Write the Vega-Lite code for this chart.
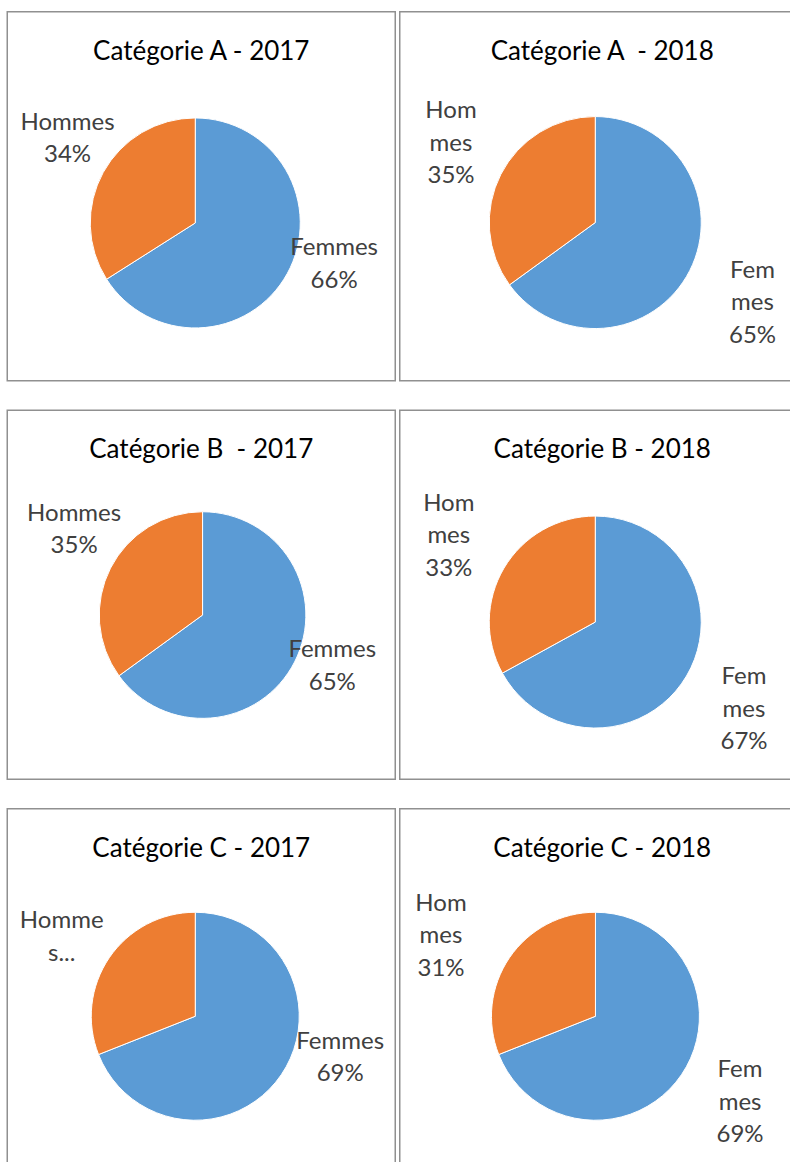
{
  "$schema": "https://vega.github.io/schema/vega-lite/v6.json",
  "padding": {"left": 6.25, "top": 10.75, "right": 0, "bottom": 0},
  "background": "#ffffff",
  "data": {
    "values": [
      {"panel": "A2017", "sexe": "Femmes", "pct": 66, "label": "Femmes\n66%"},
      {"panel": "A2017", "sexe": "Hommes", "pct": 34, "label": "Hommes\n34%"},
      {"panel": "A2018", "sexe": "Femmes", "pct": 65, "label": "Fem\nmes\n65%"},
      {"panel": "A2018", "sexe": "Hommes", "pct": 35, "label": "Hom\nmes\n35%"},
      {"panel": "B2017", "sexe": "Femmes", "pct": 65, "label": "Femmes\n65%"},
      {"panel": "B2017", "sexe": "Hommes", "pct": 35, "label": "Hommes\n35%"},
      {"panel": "B2018", "sexe": "Femmes", "pct": 67, "label": "Fem\nmes\n67%"},
      {"panel": "B2018", "sexe": "Hommes", "pct": 33, "label": "Hom\nmes\n33%"},
      {"panel": "C2017", "sexe": "Femmes", "pct": 69, "label": "Femmes\n69%"},
      {"panel": "C2017", "sexe": "Hommes", "pct": 31, "label": "Homme\ns..."},
      {"panel": "C2018", "sexe": "Femmes", "pct": 69, "label": "Fem\nmes\n69%"},
      {"panel": "C2018", "sexe": "Hommes", "pct": 31, "label": "Hom\nmes\n31%"}
    ]
  },
  "spacing": 27.5,
  "vconcat": [
    {
      "spacing": 2.5,
      "hconcat": [
        {
          "width": 388, "height": 369,
          "view": {"stroke": "#909090", "strokeWidth": 1.5},
          "title": {"text": "Catégorie A - 2017"},
          "transform": [
            {"filter": "datum.panel === 'A2017'"},
            {"stack": "pct", "groupby": ["panel"], "sort": [{"field": "sexe", "order": "ascending"}], "as": ["p0", "p1"]},
            {"calculate": "(datum.p0 + datum.p1) / 2", "as": "pmid"}
          ],
          "layer": [
            {"mark": {"type": "arc", "radius": 105, "xOffset": -6, "yOffset": 26.7, "stroke": "#ffffff", "strokeWidth": 1},
             "encoding": {"theta": {"field": "p0", "type": "quantitative", "stack": null, "scale": {"domain": [0, 100]}}, "theta2": {"field": "p1"},
                          "color": {"field": "sexe", "type": "nominal", "scale": {"domain": ["Femmes", "Hommes"], "range": ["#5B9BD5", "#ED7D31"]}, "legend": null}}},
            {"transform": [{"filter": "datum.sexe === 'Hommes'"}],
             "mark": {"type": "text", "radius": 151.5, "xOffset": -6, "yOffset": 26.7, "dx": 5, "dy": -27.3},
             "encoding": {"theta": {"field": "pmid", "type": "quantitative", "stack": null, "scale": {"domain": [0, 100]}}, "text": {"field": "label"}}},
            {"transform": [{"filter": "datum.sexe === 'Femmes'"}],
             "mark": {"type": "text", "radius": 142.5, "xOffset": -6, "yOffset": 26.7, "dx": 14, "dy": -43.3},
             "encoding": {"theta": {"field": "pmid", "type": "quantitative", "stack": null, "scale": {"domain": [0, 100]}}, "text": {"field": "label"}}}
          ]
        },
        {
          "width": 405, "height": 369,
          "view": {"stroke": "#909090", "strokeWidth": 1.5},
          "title": {"text": "Catégorie A\u00a0 - 2018"},
          "transform": [
            {"filter": "datum.panel === 'A2018'"},
            {"stack": "pct", "groupby": ["panel"], "sort": [{"field": "sexe", "order": "ascending"}], "as": ["p0", "p1"]},
            {"calculate": "(datum.p0 + datum.p1) / 2", "as": "pmid"}
          ],
          "layer": [
            {"mark": {"type": "arc", "radius": 106, "xOffset": -7, "yOffset": 26.3, "stroke": "#ffffff", "strokeWidth": 1},
             "encoding": {"theta": {"field": "p0", "type": "quantitative", "stack": null, "scale": {"domain": [0, 100]}}, "theta2": {"field": "p1"},
                          "color": {"field": "sexe", "type": "nominal", "scale": {"domain": ["Femmes", "Hommes"], "range": ["#5B9BD5", "#ED7D31"]}, "legend": null}}},
            {"transform": [{"filter": "datum.sexe === 'Hommes'"}],
             "mark": {"type": "text", "radius": 163, "xOffset": -7, "yOffset": 26.3, "dx": 1, "dy": -37.5},
             "encoding": {"theta": {"field": "pmid", "type": "quantitative", "stack": null, "scale": {"domain": [0, 100]}}, "text": {"field": "label"}}},
            {"transform": [{"filter": "datum.sexe === 'Femmes'"}],
             "mark": {"type": "text", "radius": 177.6, "xOffset": -7, "yOffset": 26.3, "dx": -1, "dy": -32.5},
             "encoding": {"theta": {"field": "pmid", "type": "quantitative", "stack": null, "scale": {"domain": [0, 100]}}, "text": {"field": "label"}}}
          ]
        }
      ]
    },
    {
      "spacing": 2.5,
      "hconcat": [
        {
          "width": 388, "height": 369,
          "view": {"stroke": "#909090", "strokeWidth": 1.5},
          "title": {"text": "Catégorie B\u00a0 - 2017"},
          "transform": [
            {"filter": "datum.panel === 'B2017'"},
            {"stack": "pct", "groupby": ["panel"], "sort": [{"field": "sexe", "order": "ascending"}], "as": ["p0", "p1"]},
            {"calculate": "(datum.p0 + datum.p1) / 2", "as": "pmid"}
          ],
          "layer": [
            {"mark": {"type": "arc", "radius": 103.3, "xOffset": 1.3, "yOffset": 20.3, "stroke": "#ffffff", "strokeWidth": 1},
             "encoding": {"theta": {"field": "p0", "type": "quantitative", "stack": null, "scale": {"domain": [0, 100]}}, "theta2": {"field": "p1"},
                          "color": {"field": "sexe", "type": "nominal", "scale": {"domain": ["Femmes", "Hommes"], "range": ["#5B9BD5", "#ED7D31"]}, "legend": null}}},
            {"transform": [{"filter": "datum.sexe === 'Hommes'"}],
             "mark": {"type": "text", "radius": 152, "xOffset": 1.3, "yOffset": 20.3, "dx": 7, "dy": -32.3},
             "encoding": {"theta": {"field": "pmid", "type": "quantitative", "stack": null, "scale": {"domain": [0, 100]}}, "text": {"field": "label"}}},
            {"transform": [{"filter": "datum.sexe === 'Femmes'"}],
             "mark": {"type": "text", "radius": 140, "xOffset": 1.3, "yOffset": 20.3, "dx": 5, "dy": -28.3},
             "encoding": {"theta": {"field": "pmid", "type": "quantitative", "stack": null, "scale": {"domain": [0, 100]}}, "text": {"field": "label"}}}
          ]
        },
        {
          "width": 405, "height": 369,
          "view": {"stroke": "#909090", "strokeWidth": 1.5},
          "title": {"text": "Catégorie B - 2018"},
          "transform": [
            {"filter": "datum.panel === 'B2018'"},
            {"stack": "pct", "groupby": ["panel"], "sort": [{"field": "sexe", "order": "ascending"}], "as": ["p0", "p1"]},
            {"calculate": "(datum.p0 + datum.p1) / 2", "as": "pmid"}
          ],
          "layer": [
            {"mark": {"type": "arc", "radius": 106, "xOffset": -7, "yOffset": 27.3, "stroke": "#ffffff", "strokeWidth": 1},
             "encoding": {"theta": {"field": "p0", "type": "quantitative", "stack": null, "scale": {"domain": [0, 100]}}, "theta2": {"field": "p1"},
                          "color": {"field": "sexe", "type": "nominal", "scale": {"domain": ["Femmes", "Hommes"], "range": ["#5B9BD5", "#ED7D31"]}, "legend": null}}},
            {"transform": [{"filter": "datum.sexe === 'Hommes'"}],
             "mark": {"type": "text", "radius": 169, "xOffset": -7, "yOffset": 27.3, "dx": -1, "dy": -32.5},
             "encoding": {"theta": {"field": "pmid", "type": "quantitative", "stack": null, "scale": {"domain": [0, 100]}}, "text": {"field": "label"}}},
            {"transform": [{"filter": "datum.sexe === 'Femmes'"}],
             "mark": {"type": "text", "radius": 174, "xOffset": -7, "yOffset": 27.3, "dx": -1, "dy": -33.5},
             "encoding": {"theta": {"field": "pmid", "type": "quantitative", "stack": null, "scale": {"domain": [0, 100]}}, "text": {"field": "label"}}}
          ]
        }
      ]
    },
    {
      "spacing": 2.5,
      "hconcat": [
        {
          "width": 388, "height": 369,
          "view": {"stroke": "#909090", "strokeWidth": 1.5},
          "title": {"text": "Catégorie C - 2017"},
          "transform": [
            {"filter": "datum.panel === 'C2017'"},
            {"stack": "pct", "groupby": ["panel"], "sort": [{"field": "sexe", "order": "ascending"}], "as": ["p0", "p1"]},
            {"calculate": "(datum.p0 + datum.p1) / 2", "as": "pmid"}
          ],
          "layer": [
            {"mark": {"type": "arc", "radius": 104, "xOffset": -6, "yOffset": 23, "stroke": "#ffffff", "strokeWidth": 1},
             "encoding": {"theta": {"field": "p0", "type": "quantitative", "stack": null, "scale": {"domain": [0, 100]}}, "theta2": {"field": "p1"},
                          "color": {"field": "sexe", "type": "nominal", "scale": {"domain": ["Femmes", "Hommes"], "range": ["#5B9BD5", "#ED7D31"]}, "legend": null}}},
            {"transform": [{"filter": "datum.sexe === 'Hommes'"}],
             "mark": {"type": "text", "radius": 153, "xOffset": -6, "yOffset": 23, "dx": -7, "dy": -9},
             "encoding": {"theta": {"field": "pmid", "type": "quantitative", "stack": null, "scale": {"domain": [0, 100]}}, "text": {"field": "label"}}},
            {"transform": [{"filter": "datum.sexe === 'Femmes'"}],
             "mark": {"type": "text", "radius": 145, "xOffset": -6, "yOffset": 23, "dx": 25, "dy": -56},
             "encoding": {"theta": {"field": "pmid", "type": "quantitative", "stack": null, "scale": {"domain": [0, 100]}}, "text": {"field": "label"}}}
          ]
        },
        {
          "width": 405, "height": 369,
          "view": {"stroke": "#909090", "strokeWidth": 1.5},
          "title": {"text": "Catégorie C - 2018"},
          "transform": [
            {"filter": "datum.panel === 'C2018'"},
            {"stack": "pct", "groupby": ["panel"], "sort": [{"field": "sexe", "order": "ascending"}], "as": ["p0", "p1"]},
            {"calculate": "(datum.p0 + datum.p1) / 2", "as": "pmid"}
          ],
          "layer": [
            {"mark": {"type": "arc", "radius": 104, "xOffset": -6.8, "yOffset": 23, "stroke": "#ffffff", "strokeWidth": 1},
             "encoding": {"theta": {"field": "p0", "type": "quantitative", "stack": null, "scale": {"domain": [0, 100]}}, "theta2": {"field": "p1"},
                          "color": {"field": "sexe", "type": "nominal", "scale": {"domain": ["Femmes", "Hommes"], "range": ["#5B9BD5", "#ED7D31"]}, "legend": null}}},
            {"transform": [{"filter": "datum.sexe === 'Hommes'"}],
             "mark": {"type": "text", "radius": 171, "xOffset": -6.8, "yOffset": 23, "dx": -13, "dy": -16.5},
             "encoding": {"theta": {"field": "pmid", "type": "quantitative", "stack": null, "scale": {"domain": [0, 100]}}, "text": {"field": "label"}}},
            {"transform": [{"filter": "datum.sexe === 'Femmes'"}],
             "mark": {"type": "text", "radius": 170, "xOffset": -6.8, "yOffset": 23, "dx": 4, "dy": -41.5},
             "encoding": {"theta": {"field": "pmid", "type": "quantitative", "stack": null, "scale": {"domain": [0, 100]}}, "text": {"field": "label"}}}
          ]
        }
      ]
    }
  ],
  "config": {
    "view": {"stroke": "#909090", "strokeWidth": 1.5},
    "title": {"font": "Lato", "fontSize": 26, "fontWeight": "normal", "color": "#000000", "offset": -53, "baseline": "alphabetic", "frame": "group", "anchor": "middle"},
    "text": {"font": "Lato", "fontSize": 24, "fontWeight": 400, "color": "#404040", "align": "center", "baseline": "middle", "lineBreak": "\n", "lineHeight": 32.5}
  }
}
